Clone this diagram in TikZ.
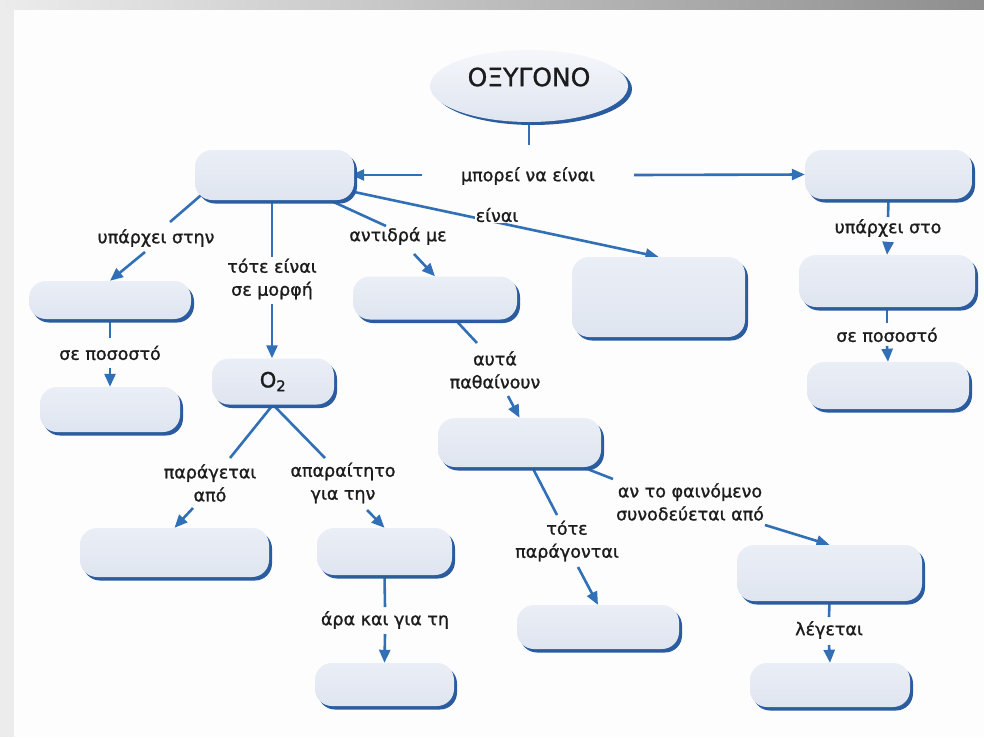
\documentclass[tikz,border=0pt]{standalone}
\usepackage{fontspec}
\setmainfont{DejaVu Sans}
\newfontfamily\labfont{DejaVu Sans}[FakeBold=1.2]
\usetikzlibrary{arrows.meta,shadows,calc,shapes.geometric}
\pgfdeclarelayer{background}
\pgfsetlayers{background,main}
\definecolor{bg}{HTML}{FDFDFD}
\definecolor{boxtop}{HTML}{EAEEF6}
\definecolor{boxbot}{HTML}{DFE5F0}
\definecolor{shad}{HTML}{2B5C9F}
\definecolor{conn}{HTML}{3170B6}
\definecolor{txt}{HTML}{1C1C1C}
\definecolor{stripL}{HTML}{ECECEC}
\definecolor{stripM}{HTML}{D6D6D6}
\definecolor{stripR}{HTML}{8E8E8E}
\tikzset{
  cbox/.style={rectangle, rounded corners=17pt, top color=boxtop, bottom color=boxbot,
    draw=none, inner sep=0pt,
    drop shadow={shadow xshift=3pt, shadow yshift=-3.5pt, fill=shad, opacity=1}},
  lab/.style={font=\labfont\fontsize{17.5}{23}\selectfont, text=txt, align=center, inner sep=1pt},
  ln/.style={draw=conn, line width=2.6pt},
  arr/.style={ln, -{Triangle[length=13pt,width=11pt]}},
}
\begin{document}
\begin{tikzpicture}[x=1pt,y=-1pt]
\useasboundingbox (0,0) rectangle (984,737);
\begin{pgfonlayer}{background}
  \fill[bg] (0,0) rectangle (984,737);
  \fill[stripL] (0,0) rectangle (14,737);
  \shade[left color=stripL, middle color=stripM, right color=stripR] (0,0) rectangle (984,9);
\end{pgfonlayer}

% top ellipse
\node[ellipse, minimum width=198pt, minimum height=72pt, top color=boxtop!50!white, bottom color=boxbot,
  draw=none, drop shadow={shadow xshift=4pt, shadow yshift=-3pt, fill=shad, opacity=1}] (ox) at (529,86) {};
\node[font=\labfont\fontsize{25}{30}\selectfont, text=txt] (oxt) at (529,77) {ΟΞΥΓΟΝΟ};

% boxes
\node[cbox, minimum width=159pt, minimum height=50pt] (b1) at (274.5,175) {};
\node[cbox, minimum width=167pt, minimum height=49pt] (b2) at (888.5,174.5) {};
\node[cbox, minimum width=162pt, minimum height=38pt] (b3) at (110,300) {};
\node[cbox, minimum width=140pt, minimum height=45pt] (b4) at (110,409.5) {};
\node[cbox, minimum width=122pt, minimum height=46pt, font=\labfont\fontsize{21}{25}\selectfont, text=txt] (b5) at (273,381.5) {O\textsubscript{2}};
\node[cbox, minimum width=164pt, minimum height=43pt] (b6) at (435,298) {};
\node[cbox, minimum width=173pt, minimum height=80pt] (b7) at (658.5,297) {};
\node[cbox, minimum width=176pt, minimum height=52pt] (b8) at (887,281) {};
\node[cbox, minimum width=162pt, minimum height=47pt] (b9) at (888,385.5) {};
\node[cbox, minimum width=163pt, minimum height=49pt] (b10) at (519.5,442.5) {};
\node[cbox, minimum width=189pt, minimum height=49pt] (b11) at (174.5,552.5) {};
\node[cbox, minimum width=135pt, minimum height=47pt] (b12) at (384.5,551.5) {};
\node[cbox, minimum width=139pt, minimum height=43pt] (b13) at (384.5,684.5) {};
\node[cbox, minimum width=162pt, minimum height=44pt] (b14) at (598,627) {};
\node[cbox, minimum width=185pt, minimum height=56pt] (b15) at (829.5,573) {};
\node[cbox, minimum width=160pt, minimum height=44pt] (b16) at (830,685) {};

% labels
\node[lab] (l0) at (528,176) {μπορεί να είναι};
\node[lab, fill=bg] (l1) at (497,215) {είναι};
\node[lab] (l2) at (398,236) {αντιδρά με};
\node[lab] (l3) at (272,279) {τότε είναι\\σε μορφή};
\node[lab] (l4) at (156,238) {υπάρχει στην};
\node[lab] (l5) at (110,353) {σε ποσοστό};
\node[lab] (l6) at (210,483) {παράγεται\\από};
\node[lab] (l7) at (343,483) {απαραίτητο\\για την};
\node[lab] (l8) at (385,620) {άρα και για τη};
\node[lab] (l9) at (495,370) {αυτά\\παθαίνουν};
\node[lab] (l10) at (567,541) {τότε\\παράγονται};
\node[lab] (l11) at (690,502) {αν το φαινόμενο\\συνοδεύεται από};
\node[lab] (l12) at (829,630) {λέγεται};
\node[lab] (l13) at (888,228) {υπάρχει στο};
\node[lab] (l14) at (887,335) {σε ποσοστό};

% connector break points
\coordinate (k0) at (529,145);
\coordinate (k1) at (422,175);
\coordinate (k2) at (634,175);
\coordinate (k3) at (386,226);  \coordinate (k3b) at (414,254);
\coordinate (k4) at (272,257);  \coordinate (k4b) at (272,304);
\coordinate (k5) at (170,222);  \coordinate (k5b) at (145,252);
\coordinate (k6) at (110,338);  \coordinate (k6b) at (110,368);
\coordinate (k7) at (230,458);  \coordinate (k7b) at (193,508);
\coordinate (k8) at (325,458);  \coordinate (k8b) at (367,510);
\coordinate (k9) at (385,607);  \coordinate (k9b) at (385,634);
\coordinate (k10) at (477,343); \coordinate (k10b) at (508,396);
\coordinate (k11) at (557,515); \coordinate (k11b) at (578,567);
\coordinate (k12) at (613,479); \coordinate (k12b) at (765,525);
\coordinate (k13) at (829,617); \coordinate (k13b) at (829,645);
\coordinate (k14) at (888,217); \coordinate (k14b) at (888,243);
\coordinate (k15) at (887,323); \coordinate (k15b) at (887,346);

\begin{pgfonlayer}{background}
  \draw[ln] (ox.south) -- (k0);
  \draw[arr, shorten >=-3pt] (k1) -- (b1.east);
  \draw[arr] (k2) -- (b2.west);
  \draw[arr] (b1.center) -- (b7.north);
  \draw[ln] (b1.center) -- (k3);
  \draw[arr] (k3b) -- (b6.north);
  \draw[ln] (b1.center -| k4) -- (k4);
  \draw[arr] (k4b) -- (k4b |- b5.north);
  \draw[ln] ($(b1.south west)+(12,-10)$) -- (k5);
  \draw[arr] (k5b) -- (b3.north);
  \draw[ln] (b3.south) -- (k6);
  \draw[arr] (k6b) -- (b4.north);
  \draw[ln] (b5.south) -- (k7);
  \draw[arr] (k7b) -- (b11.north);
  \draw[ln] (b5.south) -- (k8);
  \draw[arr] (k8b) -- (b12.north);
  \draw[ln] (b12.south) -- (k9);
  \draw[arr] (k9b) -- (b13.north);
  \draw[ln] (b6.center) -- (k10);
  \draw[arr] (k10b) -- (b10.north);
  \draw[ln] (b10.center) -- (k11);
  \draw[arr] (k11b) -- (b14.north);
  \draw[ln] (b10.center) -- (k12);
  \draw[arr] (k12b) -- (b15.north);
  \draw[ln] (b15.south) -- (k13);
  \draw[arr] (k13b) -- (b16.north);
  \draw[ln] (b2.south) -- (k14);
  \draw[arr] (k14b) -- (b8.north);
  \draw[ln] (b8.south) -- (k15);
  \draw[arr] (k15b) -- (b9.north);
\end{pgfonlayer}
\end{tikzpicture}
\end{document}
